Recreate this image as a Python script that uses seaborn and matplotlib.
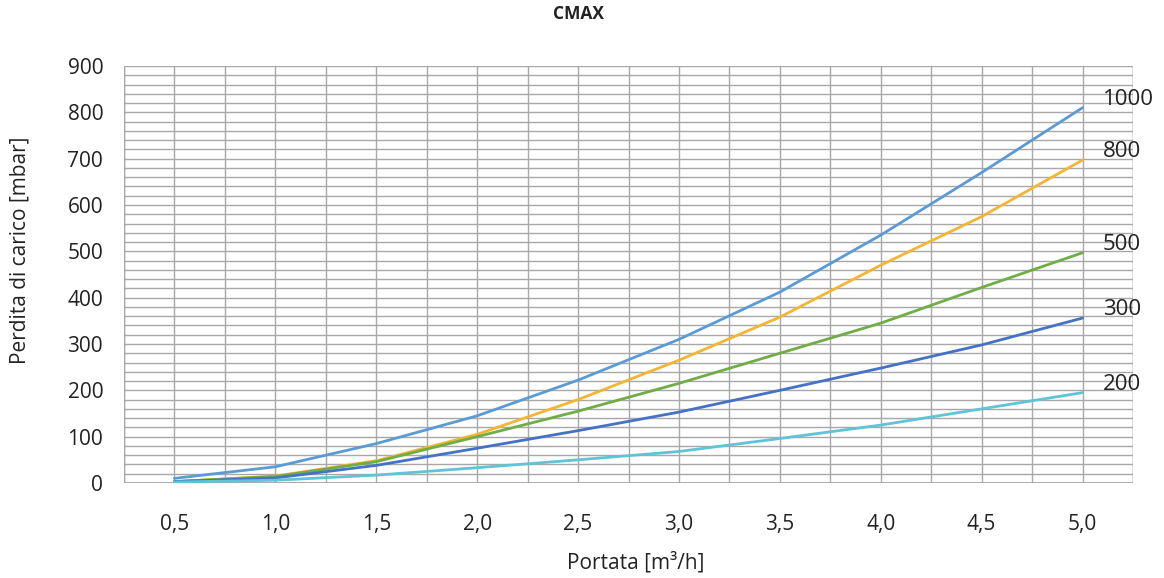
import matplotlib
matplotlib.use("Agg")
import matplotlib.pyplot as plt
import seaborn as sns
import pandas as pd
import numpy as np

# ---- data ----
portata = [0.5, 1.0, 1.5, 2.0, 2.5, 3.0, 3.5, 4.0, 4.5, 5.0]
series_names = ["1000", "800", "500", "300", "200"]
s1000 = [10, 35, 85, 145, 222, 310, 412, 535, 670, 810]
s800 = [3, 15, 48, 105, 180, 265, 358, 470, 575, 697]
s500 = [3, 14, 46, 100, 155, 215, 280, 345, 422, 497]
s300 = [3, 11, 38, 75, 113, 153, 200, 248, 298, 356]
s200 = [2, 6, 17, 33, 50, 68, 96, 125, 160, 195]
values = [s1000, s800, s500, s300, s200]
colors = ["#5b9bd5", "#f2b632", "#70ad47", "#4472c4", "#5ec4d6"]

rows = []
for name, vals in zip(series_names, values):
    for x, y in zip(portata, vals):
        rows.append({"Portata": x, "Perdita": y, "Serie": name})
df = pd.DataFrame(rows)

sns.set_style("white")
plt.rcParams["font.family"] = ["Open Sans", "DejaVu Sans"]

fig = plt.figure(figsize=(11.64, 5.78), dpi=100)
ax = fig.add_axes([124 / 1164, 1 - 483 / 578, (1133 - 124) / 1164, (483 - 66) / 578])

ax.set_xlim(0.25, 5.25)
ax.set_ylim(0, 900)

sns.lineplot(data=df, x="Portata", y="Perdita", hue="Serie", hue_order=series_names,
             palette=dict(zip(series_names, colors)), lw=2.0, legend=False, ax=ax)

xt = [0.5, 1.0, 1.5, 2.0, 2.5, 3.0, 3.5, 4.0, 4.5, 5.0]
ax.set_xticks(xt)
ax.set_xticklabels([f"{v:.1f}".replace(".", ",") for v in xt])
ax.set_yticks(range(0, 901, 100))
ax.set_yticklabels([str(v) for v in range(0, 901, 100)])
ax.set_xticks(np.arange(0.25, 5.26, 0.5), minor=True)
ax.set_yticks([v for v in range(0, 901, 20) if v % 100 != 0], minor=True)
ax.grid(which="both", axis="both", color="#a8a8a8", lw=1.0)
ax.set_axisbelow(True)
ax.tick_params(axis="both", which="both", length=0, labelsize=15, colors="#222222")
ax.tick_params(axis="x", pad=22)
ax.tick_params(axis="y", pad=15)
for s in ax.spines.values():
    s.set_visible(False)
ax.axhline(0, color="#a0a0a0", lw=1.2, zorder=0.5)
ax.axvline(0.25, color="#a8a8a8", lw=1.0, zorder=0.5)
ax.axvline(5.25, color="#a8a8a8", lw=1.0, zorder=0.5)

ax.set_xlabel("")
ax.set_ylabel("")

for name, vals in zip(series_names, values):
    ax.text(5.1, vals[-1] + 18, name, fontsize=16, color="#222222", va="center",
            ha="left", clip_on=False)

fig.text(579 / 1164, 1 - 14 / 578, "CMAX", fontsize=12.5, fontweight="bold",
         ha="center", va="center", color="#222222")
fig.text(636 / 1164, 1 - 563 / 578, "Portata [m³/h]", fontsize=15,
         ha="center", va="center", color="#222222")
fig.text(20 / 1164, 1 - 250 / 578, "Perdita di carico [mbar]", fontsize=15,
         ha="center", va="center", rotation=90, color="#222222")

fig.savefig("out.png", dpi=100, facecolor="white")
